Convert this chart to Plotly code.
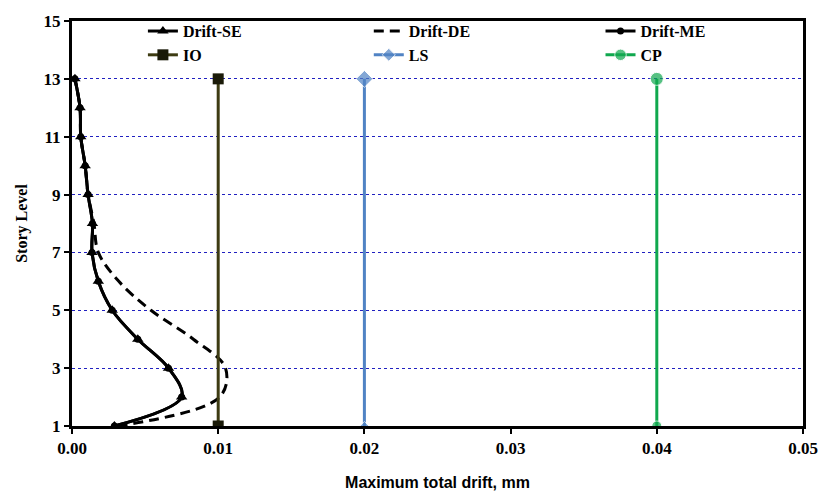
import plotly.graph_objects as go

# Story levels and peak drifts for each analysis case
stories = [1, 2, 3, 4, 5, 6, 7, 8, 9, 10, 11, 12, 13]
drift_se = [0.0029, 0.0075, 0.0066, 0.0045, 0.00275, 0.0018, 0.00137, 0.0014, 0.0011, 0.0009, 0.0006, 0.00055, 0.0002]
drift_de = [0.0031, 0.0101, 0.0105, 0.0083, 0.0054, 0.0032, 0.0018, 0.0015, 0.0011, 0.0009, 0.0006, 0.00055, 0.0002]
drift_me = [0.0029, 0.0075, 0.0066, 0.0045, 0.00275, 0.0018, 0.00137, 0.0014, 0.0011, 0.0009, 0.0006, 0.00055, 0.0002]

# Performance-level limits (vertical lines between bottom and top story)
limit_levels = [1, 13]
io_limit = [0.01, 0.01]
ls_limit = [0.02, 0.02]
cp_limit = [0.04, 0.04]

x_ticks = [0.0, 0.01, 0.02, 0.03, 0.04, 0.05]
y_ticks = [1, 3, 5, 7, 9, 11, 13, 15]

serif_bold = dict(family="Liberation Serif", size=17, color="black", weight="bold")
legend_font = dict(family="Liberation Serif", size=16, color="black", weight="bold")

fig = go.Figure()

fig.add_trace(go.Scatter(
    x=drift_me, y=stories, name="Drift-ME", legend="legend3",
    mode="lines+markers", line=dict(color="black", width=3, shape="spline"),
    marker=dict(symbol="circle", size=7, color="black")))
fig.add_trace(go.Scatter(
    x=drift_de, y=stories, name="Drift-DE", legend="legend2",
    mode="lines", line=dict(color="black", width=3, dash="10px,6px", shape="spline")))
fig.add_trace(go.Scatter(
    x=drift_se, y=stories, name="Drift-SE", legend="legend",
    mode="lines+markers", line=dict(color="black", width=3, shape="spline"),
    marker=dict(symbol="triangle-up", size=10, color="black")))

fig.add_trace(go.Scatter(
    x=io_limit, y=limit_levels, name="IO", legend="legend",
    mode="lines+markers", line=dict(color="#3d3b12", width=3),
    marker=dict(symbol="square", size=11, color="#1a1a08")))
fig.add_trace(go.Scatter(
    x=ls_limit, y=limit_levels, name="LS", legend="legend2",
    mode="lines+markers", line=dict(color="#5083c4", width=3),
    marker=dict(symbol="diamond", size=[7, 13], color="#5083c4")))
fig.add_trace(go.Scatter(
    x=cp_limit, y=limit_levels, name="CP", legend="legend3",
    mode="lines+markers", line=dict(color="#10a84e", width=3),
    marker=dict(symbol="circle", size=[10, 13], color="#10a84e")))

legend_common = dict(
    orientation="v", yanchor="top", y=1.017, xanchor="left",
    bgcolor="rgba(0,0,0,0)", font=legend_font, tracegroupgap=0,
    traceorder="normal", itemwidth=30)

fig.update_layout(
    width=830, height=502,
    margin=dict(l=72, r=26, t=15, b=72),
    paper_bgcolor="white", plot_bgcolor="white",
    showlegend=True,
    legend=dict(legend_common, x=0.097),
    legend2=dict(legend_common, x=0.406),
    legend3=dict(legend_common, x=0.723),
    xaxis=dict(
        range=[0, 0.05], tickvals=x_ticks, tickformat=".2f",
        showgrid=False, zeroline=False,
        showline=True, linecolor="black", linewidth=3, mirror=True,
        ticks="outside", ticklen=5, tickwidth=2, tickcolor="black",
        tickfont=serif_bold,
        title=dict(text="Maximum total drift, mm",
                   font=dict(family="Liberation Sans", size=16, color="black", weight="bold"),
                   standoff=20)),
    yaxis=dict(
        range=[1, 15], tickvals=y_ticks,
        showgrid=True, gridcolor="#2020c0", gridwidth=1, griddash="dot",
        zeroline=False,
        showline=True, linecolor="black", linewidth=3, mirror=True,
        ticks="outside", ticklen=5, tickwidth=2, tickcolor="black",
        tickfont=serif_bold,
        title=dict(text="Story Level",
                   font=dict(family="Liberation Serif", size=16, color="black", weight="bold"),
                   standoff=12)),
)

fig.write_html("out.html")
